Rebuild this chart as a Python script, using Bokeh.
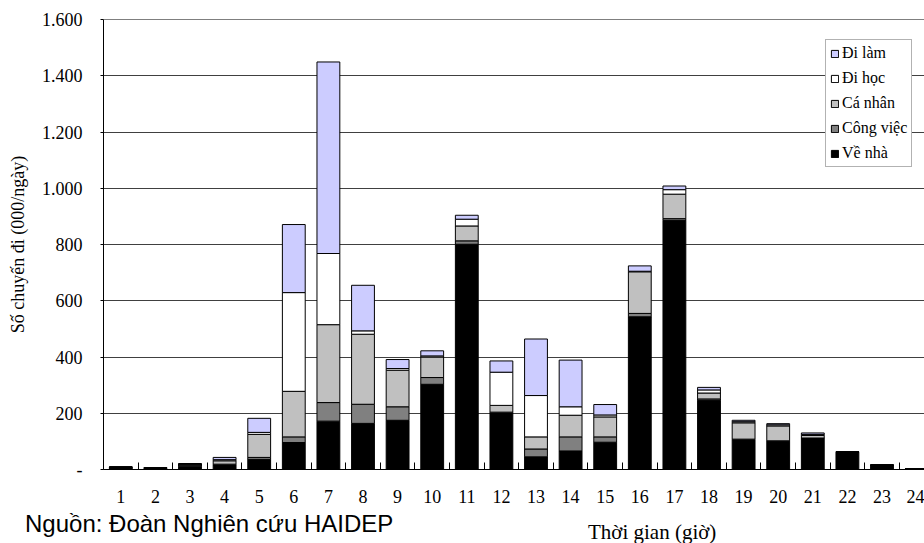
from bokeh.plotting import figure
from bokeh.layouts import column
from bokeh.models import (ColumnDataSource, Range1d, FixedTicker, Legend,
                          LegendItem, Span, Div)
from bokeh.embed import file_html
from bokeh.resources import INLINE

# Trips per hour of day (thousand trips/day), by purpose
hours = list(range(1, 25))
ve_nha = [5, 4, 12, 16, 36, 96, 172, 164, 175, 303, 801, 201,
          45, 66, 97, 543, 886, 246, 106, 100, 110, 61, 15, 2]
cong_viec = [2, 1, 4, 3, 7, 20, 66, 68, 48, 24, 12, 3,
             28, 50, 19, 12, 6, 5, 2, 2, 2, 2, 1, 0]
ca_nhan = [2, 2, 4, 12, 82, 162, 277, 249, 130, 73, 53, 24,
           43, 77, 71, 148, 87, 21, 58, 53, 9, 0, 0, 0]
di_hoc = [0, 0, 0, 4, 7, 351, 253, 12, 6, 4, 24, 118,
          147, 30, 7, 2, 16, 11, 4, 4, 4, 0, 0, 0]
di_lam = [0, 0, 0, 8, 50, 242, 681, 162, 32, 18, 14, 40,
          201, 166, 37, 19, 13, 9, 5, 4, 5, 0, 0, 0]

series_keys = ["ve_nha", "cong_viec", "ca_nhan", "di_hoc", "di_lam"]
series_names = ["Về nhà", "Công việc", "Cá nhân", "Đi học", "Đi làm"]
series_colors = ["#000000", "#808080", "#C0C0C0", "#FFFFFF", "#CCCCFF"]

y_ticks = [0, 200, 400, 600, 800, 1000, 1200, 1400, 1600]
y_tick_labels = ["-", "200", "400", "600", "800", "1.000", "1.200", "1.400", "1.600"]

x_title = "Thời gian (giờ)"
y_title = "Số chuyến đi (000/ngày)"
source_note = "Nguồn: Đoàn Nghiên cứu HAIDEP"

SERIF = "Liberation Serif"
SANS = "Liberation Sans"
W, H = 924, 543
MAIN_H = 510          # chart part; the rest is the caption strip

source = ColumnDataSource(dict(hour=hours, ve_nha=ve_nha, cong_viec=cong_viec,
                               ca_nhan=ca_nhan, di_hoc=di_hoc, di_lam=di_lam))

step = 34.6          # pixels per hour slot
frame_w = W - 103
p = figure(width=W, height=MAIN_H, output_backend="svg", toolbar_location=None,
           x_range=Range1d(0.5, 0.5 + frame_w / step), y_range=Range1d(0, 1600),
           min_border_left=103, min_border_right=0, min_border_top=19,
           min_border_bottom=MAIN_H - 469)
p.outline_line_color = None
p.background_fill_color = "white"
p.border_fill_color = "white"

renderers = p.vbar_stack(series_keys, x="hour", width=0.66, source=source,
                         fill_color=series_colors, line_color="black", line_width=1)

# axes
xa = p.xaxis[0]
xa.ticker = FixedTicker(ticks=hours, minor_ticks=[h + 0.5 for h in [0] + hours])
xa.major_tick_line_color = None
xa.major_tick_in = 0
xa.major_tick_out = 0
xa.minor_tick_in = 7
xa.minor_tick_out = 0
xa.minor_tick_line_color = "black"
xa.axis_line_color = "black"
xa.major_label_standoff = 20
xa.major_label_text_font = SERIF
xa.major_label_text_font_size = "18px"
xa.major_label_text_color = "black"

ya = p.yaxis[0]
ya.ticker = FixedTicker(ticks=y_ticks)
ya.major_label_overrides = {t: s for t, s in zip(y_ticks, y_tick_labels)}
ya.major_tick_in = 0
ya.major_tick_out = 3
ya.minor_tick_line_color = None
ya.axis_line_color = "black"
ya.major_tick_line_color = "black"
ya.major_label_standoff = 18
ya.major_label_text_font = SERIF
ya.major_label_text_font_size = "18px"
ya.major_label_text_color = "black"
ya.axis_label = y_title
ya.axis_label_standoff = 11
ya.axis_label_text_font = SERIF
ya.axis_label_text_font_size = "18px"
ya.axis_label_text_font_style = "normal"
ya.axis_label_text_color = "black"

p.xgrid.grid_line_color = None
p.ygrid.ticker = FixedTicker(ticks=y_ticks[1:-1])
p.ygrid.grid_line_color = "#404040"
p.ygrid.grid_line_width = 1
p.add_layout(Span(location=1600, dimension="width", line_color="black", line_width=1))

# legend, top purpose first
items = [LegendItem(label=series_names[i], renderers=[renderers[i]])
         for i in reversed(range(len(series_keys)))]
legend = Legend(items=items, location=(722, 302), margin=0, padding=4,
                spacing=7, label_height=18, glyph_width=9, glyph_height=9,
                label_standoff=3, label_text_font=SERIF,
                label_text_font_size="16px", label_text_color="black",
                border_line_color="#666666", border_line_width=1,
                background_fill_color="white", background_fill_alpha=1)
p.add_layout(legend)

# caption strip under the chart: source note and x-axis title
strip_h = H - MAIN_H
span_css = "position:absolute;white-space:nowrap;color:#000;margin:0;padding:0;"
caption_html = (
    f'<div style="position:relative;width:{W}px;height:{strip_h}px;'
    f'overflow:visible;background:#fff;">'
    f'<span style="{span_css}left:25px;top:2px;font-family:\'{SANS}\';'
    f'font-size:24px;line-height:24px;">{source_note}</span>'
    f'<span style="{span_css}left:588px;top:12px;font-family:\'{SERIF}\';'
    f'font-size:21px;line-height:21px;">{x_title}</span>'
    f'</div>'
)
caption = Div(text=caption_html, width=W, height=strip_h, margin=(0, 0, 0, 0))

layout = column(p, caption, spacing=0)
open("out.html", "w").write(file_html(layout, INLINE))
